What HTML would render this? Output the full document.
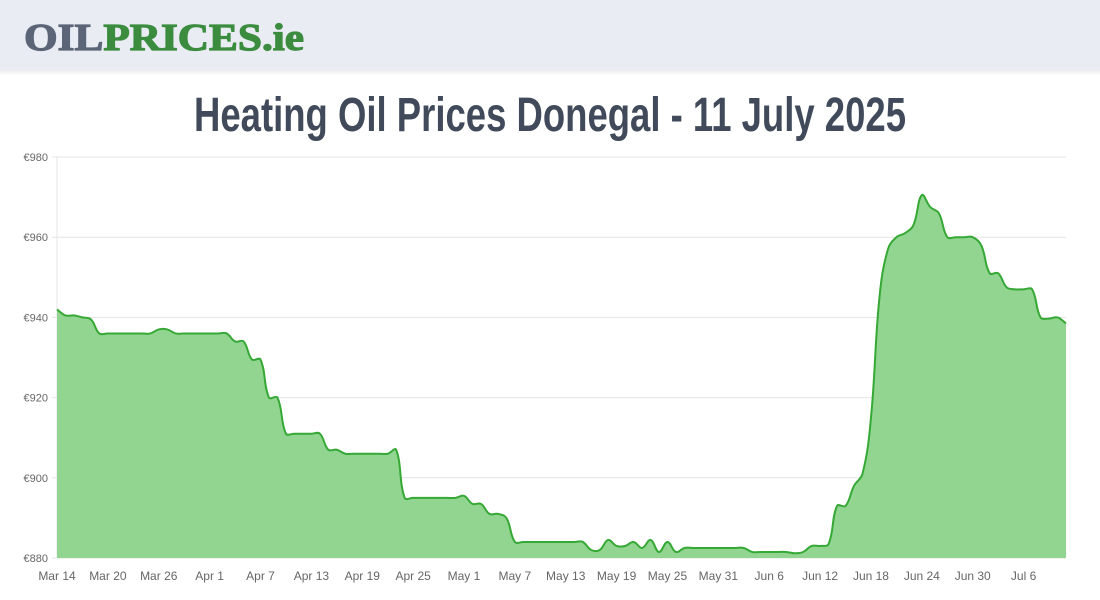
<!DOCTYPE html>
<html><head><meta charset="utf-8"><style>
html,body{margin:0;padding:0;background:#fff;width:1100px;height:600px;overflow:hidden}
svg{display:block}
</style></head><body>
<svg id="chart" width="1100" height="600" xmlns="http://www.w3.org/2000/svg">
<defs><linearGradient id="sh" x1="0" y1="0" x2="0" y2="1"><stop offset="0" stop-color="#000" stop-opacity="0.08"/><stop offset="1" stop-color="#000" stop-opacity="0"/></linearGradient></defs>
<rect x="0" y="0" width="1100" height="70" fill="#e9ecf3"/>
<rect x="0" y="70" width="1100" height="5" fill="url(#sh)"/>
<text x="24" y="50" font-family="Liberation Serif, serif" font-weight="bold" font-size="38" textLength="280" lengthAdjust="spacingAndGlyphs" stroke-width="1.2"><tspan fill="#5b6577" stroke="#5b6577">OIL</tspan><tspan fill="#3b8c3f" stroke="#3b8c3f">PRICES</tspan><tspan fill="#3b8c3f" stroke="#3b8c3f">.ie</tspan></text>
<text x="550" y="131" text-anchor="middle" font-family="Liberation Sans Narrow, Liberation Sans, sans-serif" font-weight="bold" font-size="48" fill="#414a5a" textLength="712" lengthAdjust="spacingAndGlyphs">Heating Oil Prices Donegal - 11 July 2025</text>
<g id="grid"></g>
<g id="plot"></g>
<g id="axes"></g>
</svg>
<script>
const yTicks=[880,900,920,940,960,980];
const xTickLabels=["Mar 14","Mar 20","Mar 26","Apr 1","Apr 7","Apr 13","Apr 19","Apr 25","May 1","May 7","May 13","May 19","May 25","May 31","Jun 6","Jun 12","Jun 18","Jun 24","Jun 30","Jul 6"];
const prices=[942,940.5,940.5,940,939.5,936,936,936,936,936,936,936,937,937,936,936,936,936,936,936,936,934,934,929.5,929.5,920,920,911,911,911,911,911,907,907,906,906,906,906,906,906,907,895,895,895,895,895,895,895,895.5,893.5,893.5,891,891,890,884,884,884,884,884,884,884,884,884,882,882,884.5,883,883,884,882.5,884.5,881.5,884,881.5,882.5,882.5,882.5,882.5,882.5,882.5,882.5,882.5,881.5,881.5,881.5,881.5,881.5,881.2,881.5,883,883,883.5,893,893,898,901,915,945,957,960,961,963,970.5,967.5,966,960,960,960,960,958,951,951,947.5,947,947,947,940,939.7,940,938.5];
const X0=57,X1=1066,Y0=558,Y1=157,YMIN=880,YMAX=980;
const xs=i=>X0+(X1-X0)*i/(prices.length-1);
const ys=v=>Y0-(v-YMIN)/(YMAX-YMIN)*(Y0-Y1);
const NS="http://www.w3.org/2000/svg";
function mk(t,a,p){const e=document.createElementNS(NS,t);for(const k in a)e.setAttribute(k,a[k]);p.appendChild(e);return e;}
const grid=document.getElementById('grid'),plot=document.getElementById('plot'),axes=document.getElementById('axes');
yTicks.forEach(v=>{
  const l=mk('line',{x1:X0-5,x2:X1,y1:ys(v),y2:ys(v),stroke:'#e4e4e4','stroke-width':1},grid);
  
  
  const t=mk('text',{x:X0-9,y:ys(v)+4,'text-anchor':'end','font-family':'Liberation Sans, sans-serif','font-size':11,fill:'#666'},axes);
  t.textContent='€'+v;
  
  
});
const ax=mk('line',{x1:X0,x2:X0,y1:Y1,y2:Y0,stroke:'#e4e4e4'},grid);


xTickLabels.forEach((s,k)=>{
  const t=mk('text',{x:xs(k*6),y:580,'text-anchor':'middle','font-family':'Liberation Sans, sans-serif','font-size':12,fill:'#666'},axes);
  t.textContent=s;
  
  
});
const pts=prices.map((v,i)=>[xs(i),ys(v)]);
const T=0.4;let d='M'+pts[0][0]+','+pts[0][1];
const cps=pts.map((p,i)=>{
  const pr=pts[Math.max(0,i-1)],nx=pts[Math.min(pts.length-1,i+1)];
  const d01=Math.hypot(p[0]-pr[0],p[1]-pr[1]),d12=Math.hypot(nx[0]-p[0],nx[1]-p[1]);
  let fa=d01/(d01+d12||1),fb=d12/(d01+d12||1);fa*=T;fb*=T;
  return {pX:p[0]-fa*(nx[0]-pr[0]),pY:p[1]-fa*(nx[1]-pr[1]),nX:p[0]+fb*(nx[0]-pr[0]),nY:p[1]+fb*(nx[1]-pr[1])};
});
for(let i=1;i<pts.length;i++){
  const a=cps[i-1],b=cps[i];
  d+=' C'+a.nX+','+Math.min(Y0,a.nY)+' '+b.pX+','+Math.min(Y0,b.pY)+' '+pts[i][0]+','+pts[i][1];
}
const area=mk('path',{d:d+' L'+X1+','+Y0+' L'+X0+','+Y0+' Z',fill:'#91d591'},plot);


const line=mk('path',{d:d,fill:'none',stroke:'#36a835','stroke-width':2},plot);


</script>
</body></html>
